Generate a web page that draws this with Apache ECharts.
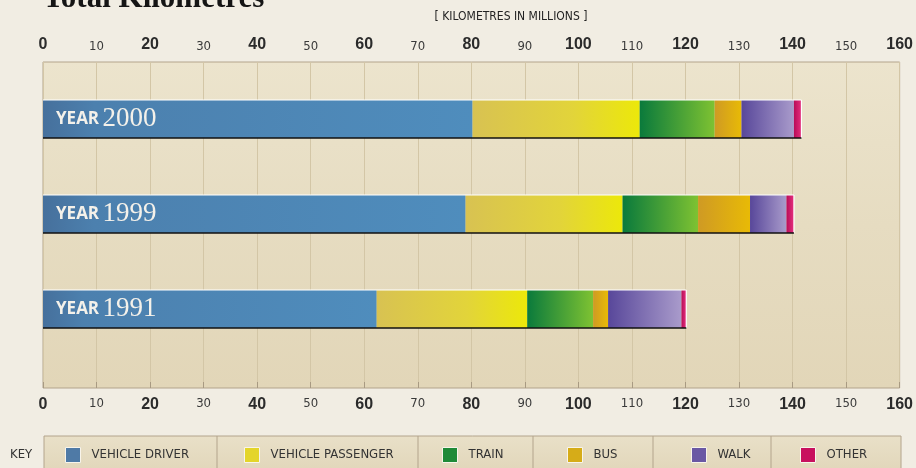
<!DOCTYPE html>
<html>
<head>
<meta charset="utf-8">
<script src="https://cdn.jsdelivr.net/npm/echarts@6/dist/echarts.min.js"></script>
<style>
  html, body { margin: 0; padding: 0; background: #f1ede3; }
  #chart { width: 916px; height: 468px; }
</style>
</head>
<body>
<div id="chart"></div>
<script>
// Distance travelled by mode, kilometres in millions
const years = ['1991', '1999', '2000'];
const vehicleDriver    = [62.3, 78.9, 80.2];
const vehiclePassenger = [28.1, 29.3, 31.2];
const train            = [12.3, 14.1, 14.0];
const bus              = [2.8, 9.7, 5.0];
const walk             = [13.7, 6.8, 9.8];
const other            = [0.9, 1.4, 1.4];

const axisMin = 0, axisMax = 160, axisStep = 10;

const sansFont = "'Liberation Sans Narrow', 'DejaVu Sans Condensed', 'Liberation Sans', sans-serif";
const serifFont = "'Liberation Serif', 'DejaVu Serif', serif";

const G = echarts.graphic.LinearGradient;
const modes = [
  { name: 'VEHICLE DRIVER', data: vehicleDriver, swatch: '#4f7aa6',
    fill: new G(0, 0, 1, 0, [{offset: 0, color: '#46709c'}, {offset: 0.12, color: '#4c80ae'}, {offset: 1, color: '#4f8dbd'}]) },
  { name: 'VEHICLE PASSENGER', data: vehiclePassenger, swatch: '#e4d52a',
    fill: new G(0, 0, 1, 0, [{offset: 0, color: '#d8c252'}, {offset: 0.6, color: '#e2d43a'}, {offset: 1, color: '#ece80a'}]) },
  { name: 'TRAIN', data: train, swatch: '#1f8a38',
    fill: new G(0, 0, 1, 0, [{offset: 0, color: '#0a7a3c'}, {offset: 1, color: '#7ec232'}]) },
  { name: 'BUS', data: bus, swatch: '#d6ac18',
    fill: new G(0, 0, 1, 0, [{offset: 0, color: '#cf9a24'}, {offset: 1, color: '#e8ba06'}]) },
  { name: 'WALK', data: walk, swatch: '#6a58a4',
    fill: new G(0, 0, 1, 0, [{offset: 0, color: '#58479a'}, {offset: 1, color: '#a99bcb'}]) },
  { name: 'OTHER', data: other, swatch: '#c8105e',
    fill: new G(0, 0, 1, 0, [{offset: 0, color: '#b80c58'}, {offset: 1, color: '#e6307e'}]) }
];

// per-year totals, used for the bar outline
const totals = years.map((_, i) => modes.reduce((s, m) => s + m.data[i], 0));

const legendSpots = [65, 244, 442, 567, 691, 800];
const keyDividers = [217, 418, 533, 653, 771];

const tickLabel = {
  formatter: v => (v % 20 === 0 ? '{b|' + v + '}' : '{r|' + v + '}'),
  rich: {
    b: { fontFamily: "'Liberation Sans', sans-serif", fontWeight: 'bold', fontSize: 16, color: '#2b2b2b' },
    r: { fontFamily: sansFont, fontSize: 13, color: '#3a3a3a' }
  }
};

const chart = echarts.init(document.getElementById('chart'), null, { renderer: 'canvas' });

const barSeries = modes.map((m, k) => ({
  type: 'bar',
  name: m.name,
  xAxisIndex: 2,
  yAxisIndex: 1,
  stack: 'km',
  barWidth: 38,
  data: m.data,
  itemStyle: { color: m.fill },
  emphasis: { disabled: true },
  label: k === 0 ? {
    show: true,
    position: 'insideLeft',
    distance: 13,
    formatter: p => '{y|YEAR} {n|' + p.name + '}',
    rich: {
      y: { fontFamily: "'Open Sans', 'Liberation Sans', sans-serif", fontWeight: 'bold', fontSize: 17, color: '#f4f1ea' },
      n: { fontFamily: serifFont, fontSize: 27, color: '#f4f1ea' }
    }
  } : { show: false }
}));

const outline = {
  type: 'custom',
  xAxisIndex: 2,
  yAxisIndex: 1,
  z: 5,
  silent: true,
  data: totals.map((t, i) => [t, i]),
  renderItem: (params, api) => {
    const start = api.coord([0, api.value(1)]);
    const end = api.coord([api.value(0), api.value(1)]);
    const h = 19;
    return {
      type: 'group',
      children: [
        { type: 'line', shape: { x1: start[0], y1: start[1] - h, x2: end[0], y2: end[1] - h },
          style: { stroke: '#ffffff', lineWidth: 1.2 } },
        { type: 'line', shape: { x1: end[0], y1: end[1] - h, x2: end[0], y2: end[1] + h },
          style: { stroke: '#ffffff', lineWidth: 1.2 } },
        { type: 'line', shape: { x1: start[0], y1: start[1] + h, x2: end[0], y2: end[1] + h },
          style: { stroke: '#111111', lineWidth: 1.4 } }
      ]
    };
  }
};

const option = {
  backgroundColor: '#f1ede3',
  animation: false,
  title: {
    text: 'Total Kilometres',
    left: 38,
    top: -22,
    textStyle: { fontFamily: serifFont, fontWeight: 'bold', fontSize: 31, color: '#151515' }
  },
  graphic: [
    { type: 'text', x: 511, y: 17,
      style: { text: '[ KILOMETRES IN MILLIONS ]', fontFamily: sansFont, fontSize: 12, fill: '#222',
               align: 'center', verticalAlign: 'middle' } },
    { type: 'rect', shape: { x: 44, y: 436, width: 857, height: 40 },
      style: { fill: new G(0, 0, 0, 1, [{offset: 0, color: '#e9e0c8'}, {offset: 1, color: '#e0d5b8'}]),
               stroke: '#b3a48c', lineWidth: 1 }, z: -1 },
    ...keyDividers.map(x => ({ type: 'line', shape: { x1: x, y1: 436, x2: x, y2: 470 },
      style: { stroke: '#b3a48c', lineWidth: 1 }, z: -1 })),
    { type: 'text', x: 10, y: 455,
      style: { text: 'KEY', fontFamily: sansFont, fontSize: 13, fill: '#333', verticalAlign: 'middle' } }
  ],
  legend: modes.map((m, k) => ({
    left: legendSpots[k],
    top: 447,
    padding: 0,
    itemWidth: 15,
    itemHeight: 15,
    icon: 'rect',
    selectedMode: false,
    data: [{ name: m.name, itemStyle: { color: m.swatch, borderColor: '#f8f4ea', borderWidth: 1 } }],
    textStyle: { fontFamily: sansFont, fontSize: 13, color: '#333', padding: [0, 0, 0, 6] }
  })),
  grid: [
    { left: 43, right: 16, top: 62, bottom: 80, show: true,
      backgroundColor: new G(0, 0, 0, 1, [{offset: 0, color: '#ece4cd'}, {offset: 0.5, color: '#e6dcc1'}, {offset: 1, color: '#e2d6b8'}]),
      borderColor: '#b3a48c', borderWidth: 1 },
    { left: 43, right: 16, top: 71.5, bottom: 111.5 }
  ],
  xAxis: [
    { type: 'value', gridIndex: 0, position: 'top', min: axisMin, max: axisMax, interval: axisStep,
      axisLine: { show: false }, axisTick: { show: false },
      axisLabel: Object.assign({ margin: 9 }, tickLabel),
      splitLine: { show: true, lineStyle: { color: '#d3c6a6', width: 1 } } },
    { type: 'value', gridIndex: 0, position: 'bottom', min: axisMin, max: axisMax, interval: axisStep,
      axisLine: { show: false },
      axisTick: { show: true, inside: true, length: 6, lineStyle: { color: '#a89a82' } },
      axisLabel: Object.assign({ margin: 9 }, tickLabel),
      splitLine: { show: false } },
    { type: 'value', gridIndex: 1, min: axisMin, max: axisMax, show: false }
  ],
  yAxis: [
    { type: 'category', gridIndex: 0, data: years, show: false },
    { type: 'category', gridIndex: 1, data: years, show: false }
  ],
  series: [...barSeries, outline]
};

chart.setOption(option);
</script>
</body>
</html>
